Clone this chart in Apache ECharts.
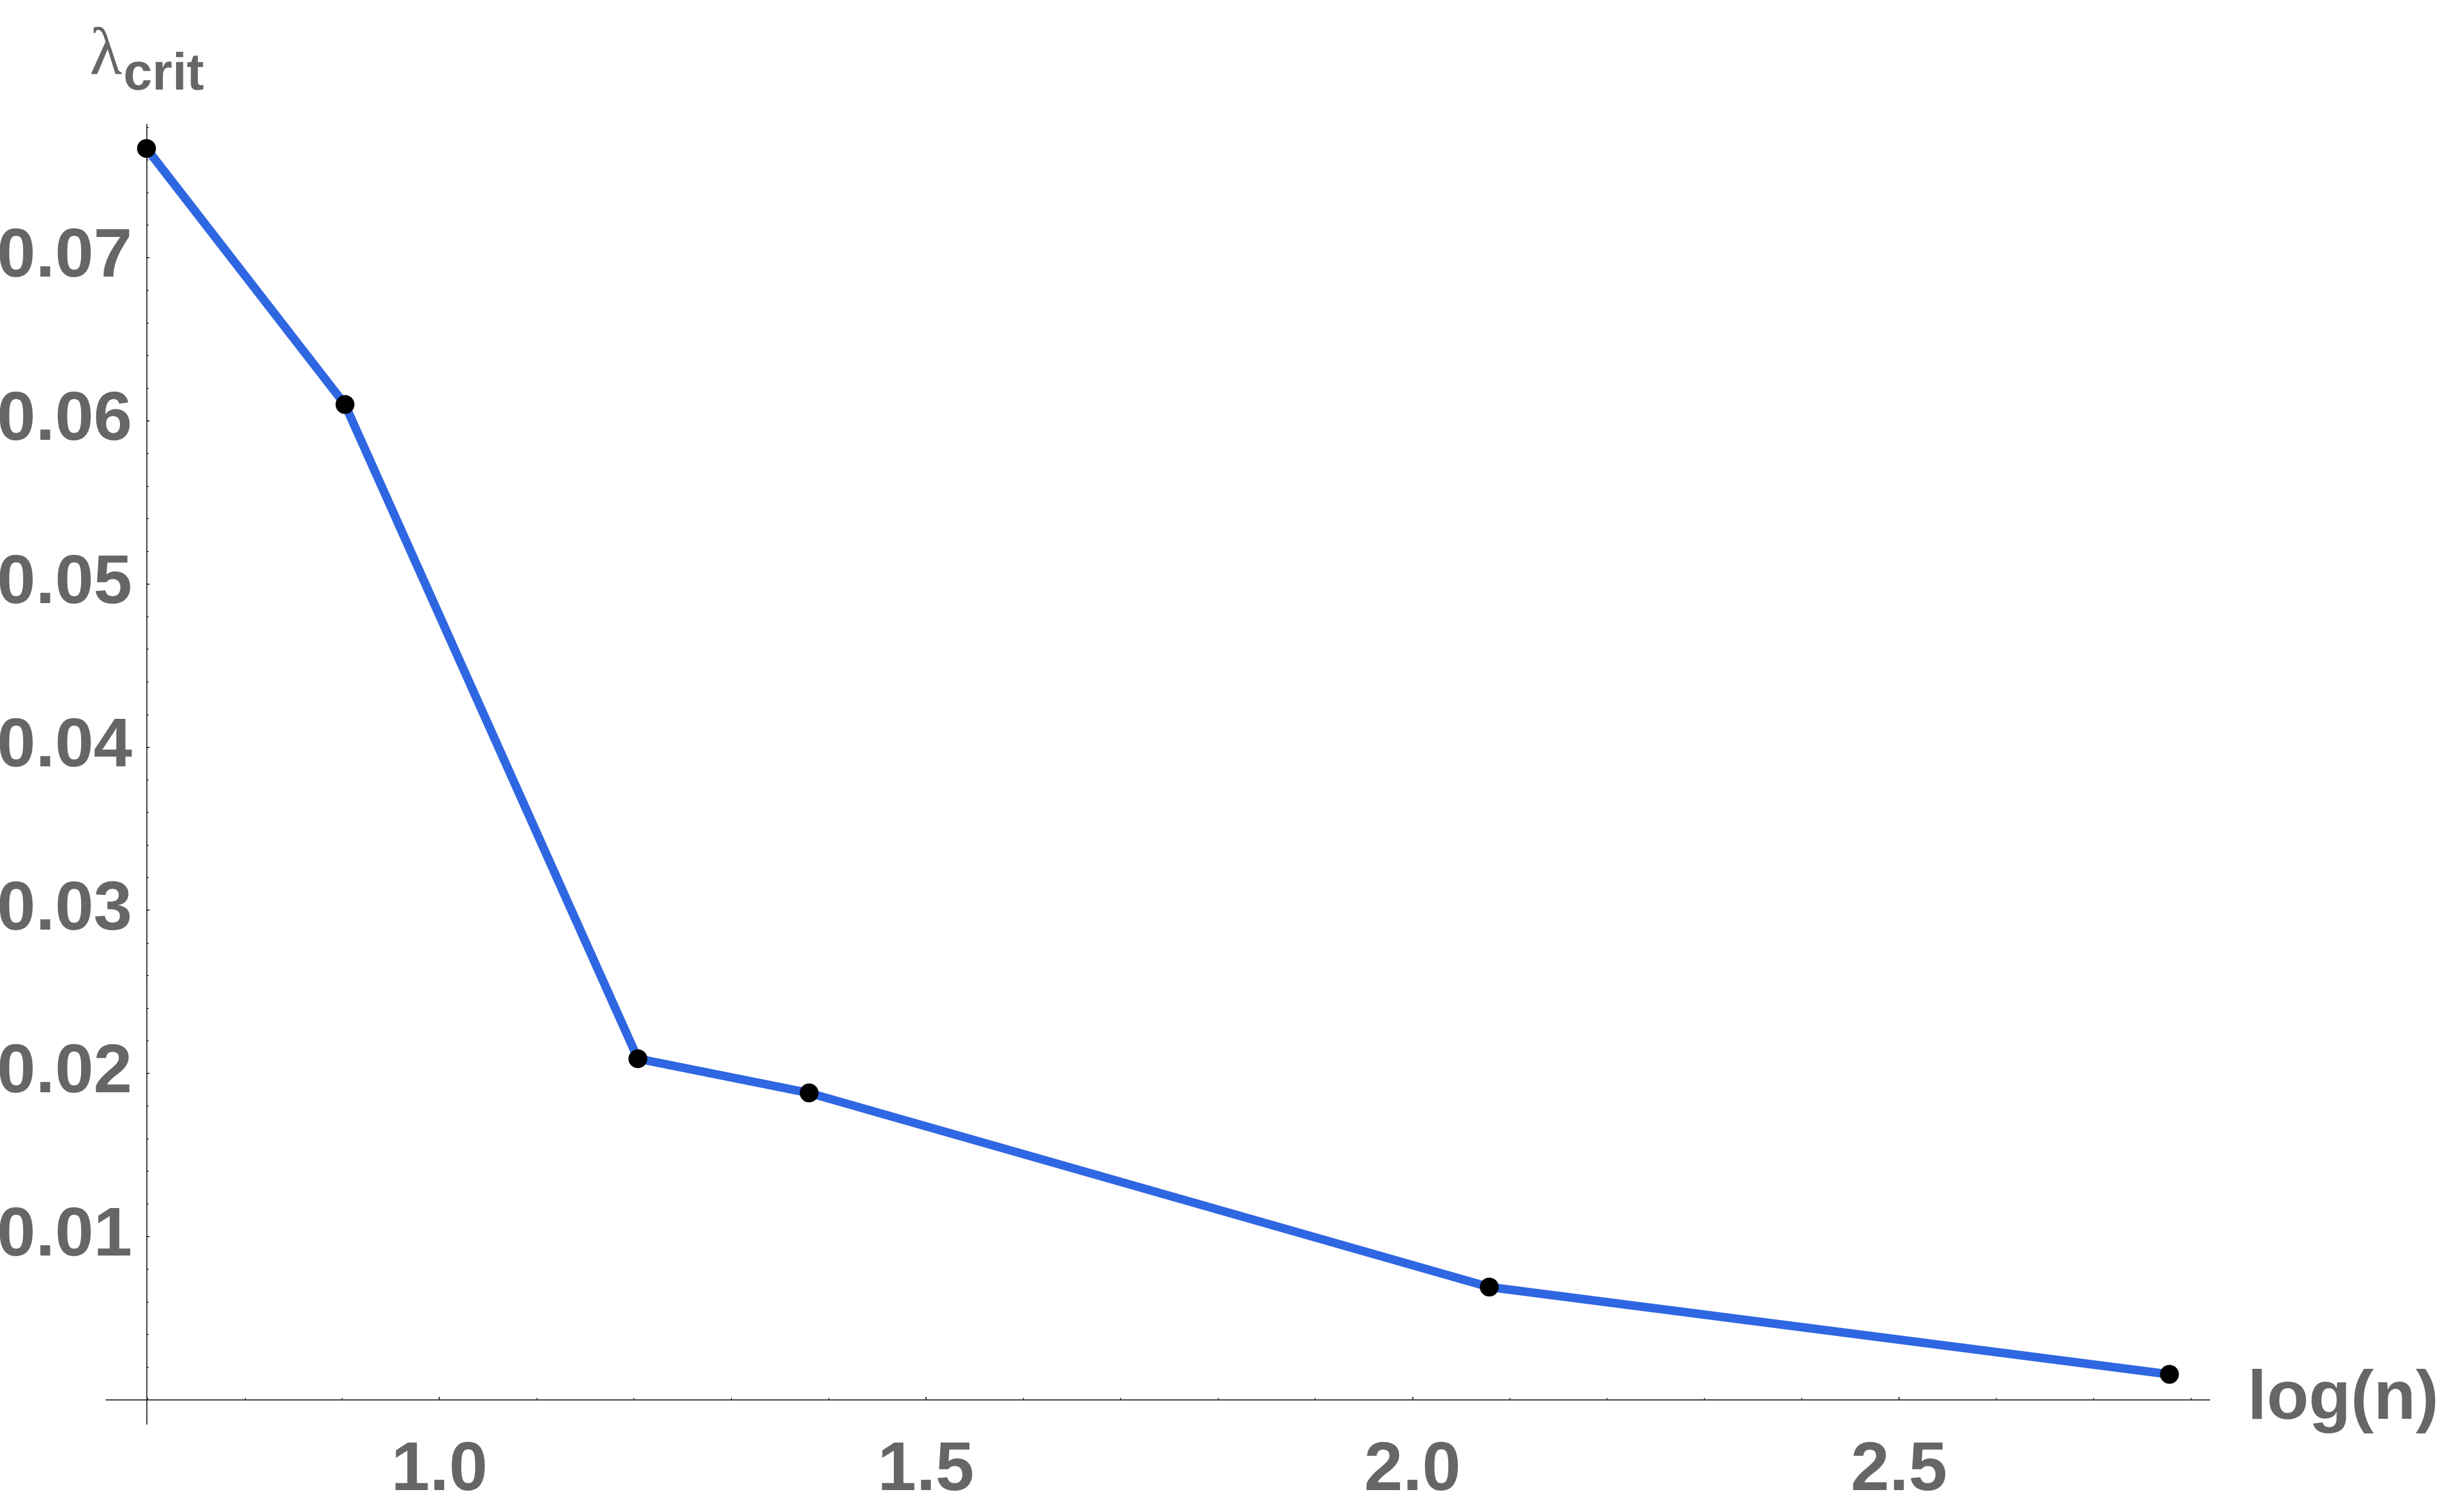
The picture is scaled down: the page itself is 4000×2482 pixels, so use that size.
<!DOCTYPE html>
<html>
<head>
<meta charset="utf-8">
<script src="https://cdn.jsdelivr.net/npm/echarts@6/dist/echarts.min.js"></script>
<style>
html,body{margin:0;padding:0;background:#fff;}
#chart{width:4000px;height:2482px;}
</style>
</head>
<body>
<div id="chart"></div>
<script>
// log(n) values of the points
const xValues = [0.699, 0.903, 1.204, 1.380, 2.079, 2.778];
// lambda_crit values
const yValues = [0.0767, 0.0610, 0.0209, 0.0188, 0.0069, 0.00155];

const xTickLabels = [1.0, 1.5, 2.0, 2.5];
const xMinorTicks = [0.7, 0.8, 0.9, 1.1, 1.2, 1.3, 1.4, 1.6, 1.7, 1.8, 1.9, 2.1, 2.2, 2.3, 2.4, 2.6, 2.7, 2.8];
const yTickLabels = [0.01, 0.02, 0.03, 0.04, 0.05, 0.06, 0.07];
const yMinorTicks = [0.002, 0.004, 0.006, 0.008, 0.012, 0.014, 0.016, 0.018, 0.022, 0.024, 0.026, 0.028,
  0.032, 0.034, 0.036, 0.038, 0.042, 0.044, 0.046, 0.048, 0.052, 0.054, 0.056, 0.058,
  0.062, 0.064, 0.066, 0.068, 0.072, 0.074, 0.076, 0.078];

const xMin = 0.6574, xMax = 2.8194;
const yMin = -0.00151, yMax = 0.07818;

const labelColor = '#666666';
const labelFont = {color: labelColor, fontFamily: 'Liberation Sans', fontWeight: 'bold', fontSize: 114};

const chart = echarts.init(document.getElementById('chart'), null, {renderer: 'canvas'});

const baseX = {
  type: 'value', min: xMin, max: xMax, position: 'bottom',
  splitLine: {show: false},
  axisLine: {onZero: true, lineStyle: {color: '#000', width: 1.5}}
};
const baseY = {
  type: 'value', min: yMin, max: yMax, position: 'left', offset: -67,
  splitLine: {show: false},
  axisLine: {onZero: false, lineStyle: {color: '#000', width: 1.5}}
};

chart.setOption({
  animation: false,
  backgroundColor: '#fff',
  grid: {left: 174, right: 373, top: 204, bottom: 144, containLabel: false, outerBoundsMode: 'none'},
  xAxis: [
    Object.assign({}, baseX, {
      name: 'log(n)', nameLocation: 'end', nameGap: 62,
      nameTextStyle: Object.assign({}, labelFont, {fontSize: 113, padding: [56, 0, 0, 0]}),
      axisTick: {show: true, inside: true, length: 4.5, customValues: xTickLabels, lineStyle: {color: '#000', width: 1.5}},
      axisLabel: Object.assign({}, labelFont, {customValues: xTickLabels, margin: 20,
        formatter: v => v.toFixed(1)})
    }),
    Object.assign({}, baseX, {
      axisLine: {show: false, onZero: true},
      axisTick: {show: true, inside: true, length: 3, customValues: xMinorTicks, lineStyle: {color: '#000', width: 1.2}},
      axisLabel: {show: false}
    })
  ],
  yAxis: [
    Object.assign({}, baseY, {
      name: '{l|λ}{s|crit}', nameLocation: 'end', nameGap: 38,
      nameTextStyle: {
        rich: {
          l: {fontFamily: 'Liberation Serif', fontSize: 110, color: labelColor, verticalAlign: 'bottom', lineHeight: 110, padding: [0, 2, 18, 0]},
          s: {fontFamily: 'Liberation Sans', fontWeight: 'bold', fontSize: 85, color: labelColor, verticalAlign: 'bottom', lineHeight: 85}
        }
      },
      axisTick: {show: true, inside: true, length: 4.5, customValues: yTickLabels, lineStyle: {color: '#000', width: 1.5}},
      axisLabel: Object.assign({}, labelFont, {customValues: yTickLabels, margin: 24, padding: [14, 0, 0, 0],
        formatter: v => v.toFixed(2)})
    }),
    Object.assign({}, baseY, {
      axisLine: {show: false},
      axisTick: {show: true, inside: true, length: 3, customValues: yMinorTicks, lineStyle: {color: '#000', width: 1.2}},
      axisLabel: {show: false}
    })
  ],
  series: [{
    type: 'line',
    xAxisIndex: 0, yAxisIndex: 0,
    data: xValues.map((x, i) => [x, yValues[i]]),
    lineStyle: {color: '#2f67e2', width: 14},
    symbol: 'circle', symbolSize: 31,
    itemStyle: {color: '#000'},
    z: 5
  }]
});
</script>
</body>
</html>
